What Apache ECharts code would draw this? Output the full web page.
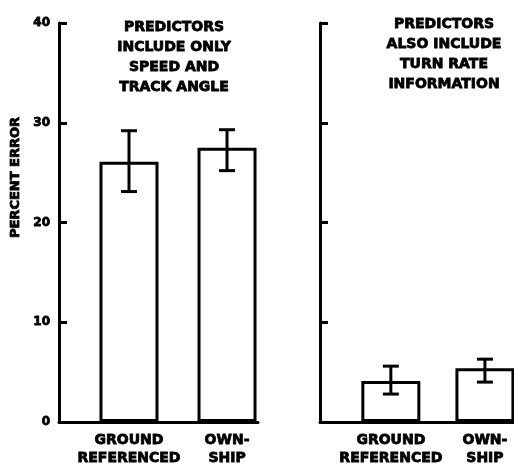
<!DOCTYPE html>
<html>
<head>
<meta charset="utf-8">
<script src="https://cdn.jsdelivr.net/npm/echarts@6/dist/echarts.min.js"></script>
<style>html,body{margin:0;padding:0;background:#fff;}#c{width:514px;height:467px;}</style>
</head>
<body>
<div id="c"></div>
<script>
// ---- data ----
var categories = ['GROUND\nREFERENCED', 'OWN-\nSHIP'];
var panelTitles = ['PREDICTORS\nINCLUDE ONLY\nSPEED AND\nTRACK ANGLE', 'PREDICTORS\nALSO INCLUDE\nTURN RATE\nINFORMATION'];
var speedTrackMean = [26.1, 27.5];
var speedTrackLow = [23.1, 25.2];
var speedTrackHigh = [29.2, 29.3];
var turnRateMean = [4.1, 5.4];
var turnRateLow = [2.8, 4.0];
var turnRateHigh = [5.6, 6.3];
var yTicks = [0, 10, 20, 30, 40];
var yAxisName = 'PERCENT ERROR';

var FONT = 'DejaVu Sans';
var chart = echarts.init(document.getElementById('c'), null, {renderer: 'canvas'});

function errSeries(idx, low, high) {
  return {
    type: 'custom', xAxisIndex: idx, yAxisIndex: idx, z: 5,
    data: low.map(function (l, i) { return [i, l, high[i]]; }),
    renderItem: function (params, api) {
      var x = api.value(0);
      var p1 = api.coord([x, api.value(1)]);
      var p2 = api.coord([x, api.value(2)]);
      var hw = 8;
      var st = {stroke: '#000', lineWidth: 3};
      return {type: 'group', children: [
        {type: 'line', shape: {x1: p1[0], y1: p1[1], x2: p2[0], y2: p2[1]}, style: st},
        {type: 'line', shape: {x1: p1[0] - hw, y1: p1[1], x2: p1[0] + hw, y2: p1[1]}, style: st},
        {type: 'line', shape: {x1: p2[0] - hw, y1: p2[1], x2: p2[0] + hw, y2: p2[1]}, style: st}
      ]};
    }
  };
}
function barSeries(idx, vals) {
  return {
    type: 'bar', xAxisIndex: idx, yAxisIndex: idx, barWidth: 59,
    data: vals.map(function (v, i) { return [i, v]; }),
    itemStyle: {color: '#fff', borderColor: '#000', borderWidth: 3},
    silent: true
  };
}
var heavy = {color: '#000', fontFamily: FONT, fontWeight: 'bold', textBorderColor: '#000', textBorderWidth: 0.8};
function xAx(idx, min, max) {
  return {
    type: 'value', gridIndex: idx, min: min, max: max,
    splitLine: {show: false},
    axisLine: {show: true, onZero: false, lineStyle: {color: '#000', width: 3}},
    axisTick: {show: false},
    axisLabel: Object.assign({
      customValues: categories.map(function (c, i) { return i; }),
      formatter: function (v) { return categories[Math.round(v)] || ''; },
      fontSize: 14, lineHeight: 18, margin: 9
    }, heavy)
  };
}
function yAx(idx, showLabels) {
  return {
    type: 'value', gridIndex: idx, min: yTicks[0], max: yTicks[yTicks.length - 1], interval: 10,
    splitLine: {show: false},
    axisLine: {show: true, onZero: false, lineStyle: {color: '#000', width: 3}},
    axisTick: {show: true, inside: true, length: 8, lineStyle: {color: '#000', width: 3}},
    axisLabel: Object.assign({show: showLabels, fontSize: 12, margin: 9}, heavy),
    name: showLabels ? yAxisName : '',
    nameLocation: 'middle', nameGap: 37, nameRotate: 90,
    nameTextStyle: Object.assign({fontSize: 13, padding: [0, 0, 0, 90]}, heavy)
  };
}

chart.setOption({
  animation: false,
  backgroundColor: '#fff',
  title: [
    {text: panelTitles[0], left: 169, top: 12, textAlign: 'center',
     textStyle: Object.assign({fontSize: 14, lineHeight: 20}, heavy)},
    {text: panelTitles[1], left: 439, top: 9, textAlign: 'center',
     textStyle: Object.assign({fontSize: 14, lineHeight: 20}, heavy)}
  ],
  grid: [
    {left: 59, top: 23, width: 199, height: 401},
    {left: 320, top: 23, width: 200, height: 401}
  ],
  xAxis: [xAx(0, -0.714, 1.316), xAx(1, -0.753, 1.309)],
  yAxis: [yAx(0, true), yAx(1, false)],
  series: [
    barSeries(0, speedTrackMean), errSeries(0, speedTrackLow, speedTrackHigh),
    barSeries(1, turnRateMean), errSeries(1, turnRateLow, turnRateHigh)
  ]
});
</script>
</body>
</html>
